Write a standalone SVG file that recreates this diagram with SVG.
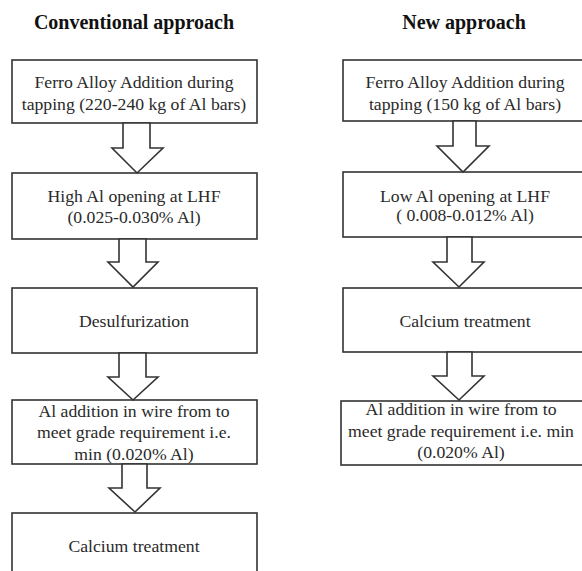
<svg xmlns="http://www.w3.org/2000/svg" width="582" height="571" viewBox="0 0 582 571">
<style>
.box{fill:#fff;stroke:#333;stroke-width:1.6}
.arr{fill:#fff;stroke:#333;stroke-width:1.6;stroke-linejoin:miter}
</style>
<rect width="582" height="571" fill="#fff"/>
<g font-family="Liberation Serif" font-size="17.7" fill="#2a2a2a" text-anchor="middle">
<g id="titles" font-weight="bold" fill="#111" font-size="20">
<text x="134" y="29">Conventional approach</text>
<text x="464" y="29">New approach</text>
</g>

<g id="c1"><rect class="box" x="12" y="60" width="245" height="63"/><text x="134" y="88">Ferro Alloy Addition during</text><text x="134" y="110">tapping (220-240 kg of Al bars)</text></g>
<g id="c2"><rect class="box" x="12" y="173" width="245" height="66"/><text x="134" y="202">High Al opening at LHF</text><text x="134" y="223">(0.025-0.030% Al)</text></g>
<g id="c3"><rect class="box" x="12" y="288" width="245" height="65"/><text x="134" y="327">Desulfurization</text></g>
<g id="c4"><rect class="box" x="12" y="400" width="245" height="64"/><text x="134" y="417">Al addition in wire from to</text><text x="134" y="438">meet grade requirement i.e.</text><text x="134" y="460">min (0.020% Al)</text></g>
<g id="c5"><rect class="box" x="12" y="513" width="245" height="70"/><text x="134" y="552">Calcium treatment</text></g>

<g id="n1"><rect class="box" x="343" y="60" width="245" height="61"/><text x="465" y="88">Ferro Alloy Addition during</text><text x="465" y="110">tapping (150 kg of Al bars)</text></g>
<g id="n2"><rect class="box" x="343" y="172" width="245" height="65"/><text x="465" y="202">Low Al opening at LHF</text><text x="465" y="221">( 0.008-0.012% Al)</text></g>
<g id="n3"><rect class="box" x="343" y="288" width="245" height="64"/><text x="465" y="327">Calcium treatment</text></g>
<g id="n4"><rect class="box" x="341" y="401" width="247" height="64"/><text x="461" y="415">Al addition in wire from to</text><text x="461" y="437">meet grade requirement i.e. min</text><text x="461" y="458">(0.020% Al)</text></g>
</g>

<g id="connectors">
<polygon class="arr" points="123,123 150,123 150,148 163,148 137,173 112,148 123,148"/>
<polygon class="arr" points="119,239 146,239 146,262 158,262 133,287 108,262 119,262"/>
<polygon class="arr" points="119,353 146,353 146,377 158,377 133,400 108,377 119,377"/>
<polygon class="arr" points="122,464 147,464 147,488 160,488 135,512 109,488 122,488"/>
<polygon class="arr" points="453,121 476,121 476,146 489,146 463,172 437,146 453,146"/>
<polygon class="arr" points="447,237 472,237 472,262 484,262 459,287 433,262 447,262"/>
<polygon class="arr" points="447,352 472,352 472,376 484,376 459,400 433,376 447,376"/>
</g>
</svg>
